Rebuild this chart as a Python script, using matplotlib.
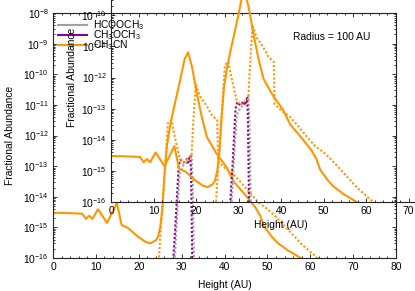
import matplotlib
matplotlib.use('Agg')
import matplotlib.pyplot as plt
from matplotlib.lines import Line2D
from matplotlib.ticker import LogLocator, MultipleLocator, LogFormatterMathtext, NullFormatter

plt.rcParams.update({
    'font.family': ['Liberation Sans', 'DejaVu Sans'],
    'mathtext.fontset': 'custom',
    'mathtext.rm': 'Liberation Sans',
    'mathtext.it': 'Liberation Sans:italic',
    'mathtext.bf': 'Liberation Sans:bold',
    'font.size': 7.4,
})

# ---- data (Height in AU, fractional abundance) ----
species = ['HCOOCH$_3$', 'CH$_3$OCH$_3$', 'CH$_3$CN']
colors = ['#a0a0a0', '#8b008b', '#ff9600']

# CH3CN, model 1 (solid)
h_ch3cn_1 = [0, 3, 6.8, 7.7, 8.4, 9.2, 10.5, 12.6, 14.9, 16.0, 17.5, 19.8, 21.5,
             22.7, 24.0, 24.5, 25.0, 25.5, 26.0, 26.6, 27.3, 28.1, 29.0, 29.8,
             30.7, 31.5, 32.4, 33.6, 34.7, 35.9, 38.2, 40.5, 42.1, 45.2, 47.2,
             48.4, 49.2, 51.0, 52.3, 54.7, 57.8, 60.0]
a_ch3cn_1 = [3.0e-15, 2.95e-15, 2.8e-15, 1.9e-15, 2.4e-15, 1.9e-15, 3.9e-15,
             1.4e-15, 6.3e-15, 1.2e-15, 9.5e-16, 5.0e-16, 3.4e-16, 3.0e-16,
             3.8e-16, 5.0e-16, 1.0e-15, 4.0e-15, 5.0e-14, 5.0e-13, 2.0e-12,
             7.0e-12, 2.5e-11, 7.9e-11, 3.2e-10, 5.2e-10, 1.8e-10, 2.2e-11,
             4.0e-12, 8.9e-13, 2.5e-13, 9.1e-14, 3.2e-14, 1.0e-14, 4.5e-15,
             2.3e-15, 1.1e-15, 5.0e-16, 3.2e-16, 1.8e-16, 1.0e-16, 4.0e-17]

# CH3CN, model 2 (dotted)
h_ch3cn_2 = [24.5, 24.7, 26.2, 26.8, 27.6, 28.5, 29.5, 30.4, 31.2, 32.3, 32.7,
             33.3, 34.3, 35.7, 37.1, 38.3, 38.5, 40.0, 42.0, 44.0, 46.0, 48.0,
             50.0, 52.0, 54.0, 56.0, 58.0, 60.0, 61.7, 62.5]
a_ch3cn_2 = [3.0e-17, 1.0e-16, 1.3e-13, 2.5e-12, 3.2e-12, 7.9e-13, 2.0e-13,
             1.3e-13, 1.6e-13, 2.0e-13, 2.5e-12, 4.7e-11, 1.9e-11, 1.0e-11,
             4.5e-12, 3.2e-12, 1.4e-13, 8.9e-14, 5.6e-14, 2.8e-14, 1.3e-14,
             6.3e-15, 4.0e-15, 2.2e-15, 1.1e-15, 5.6e-16, 2.8e-16, 1.6e-16,
             1.0e-16, 6.0e-17]

# CH3OCH3, model 2 (dotted)
h_ch3och3_2 = [27.8, 28.6, 29.3, 29.7, 30.4, 31.2, 31.5, 32.0, 32.2, 32.5]
a_ch3och3_2 = [2.5e-17, 1.6e-15, 1.0e-13, 1.6e-13, 1.3e-13, 1.7e-13, 1.3e-13,
               2.2e-13, 6.3e-14, 5.0e-17]

# HCOOCH3, model 2 (dotted)
h_hcooch3_2 = [28.2, 29.0, 29.6, 30.5, 31.5, 32.3, 32.6, 32.9]
a_hcooch3_2 = [3.0e-17, 3.2e-15, 6.3e-14, 1.1e-13, 1.4e-13, 2.5e-13, 3.2e-14,
               5.0e-17]

x_ticks = [0, 10, 20, 30, 40, 50, 60, 70, 80]

fig = plt.figure(figsize=(4.15, 2.91), dpi=100)
ax = fig.add_axes([53/415, 33/291, 343/415, 245/291])
ins = fig.add_axes([111/415, 89/291, 340/415, 249/291])
ins.patch.set_visible(False)

dot = (0, (1, 1))
for a in (ax, ins):
    a.set_yscale('log')
    a.set_xlim(0, 80)
    a.set_ylim(1e-16, 1e-8)
    a.set_xticks(x_ticks)
    a.xaxis.set_minor_locator(MultipleLocator(2))
    a.yaxis.set_major_locator(LogLocator(base=10, numticks=20))
    a.yaxis.set_minor_locator(LogLocator(base=10, subs=range(2, 10), numticks=20))
    a.yaxis.set_major_formatter(LogFormatterMathtext())
    a.yaxis.set_minor_formatter(NullFormatter())
    a.tick_params(which='both', direction='in', top=True, right=True,
                  labelsize=7.4, width=0.7, color='#333333')
    a.tick_params(which='major', length=3.2, pad=3)
    a.tick_params(which='minor', length=1.6)
    for s in a.spines.values():
        s.set_linewidth(0.8)
        s.set_color('#222222')
    a.plot(h_hcooch3_2, a_hcooch3_2, color=colors[0], lw=1.5, ls=dot)
    a.plot(h_ch3och3_2, a_ch3och3_2, color=colors[1], lw=1.5, ls=dot)
    a.plot(h_ch3cn_1, a_ch3cn_1, color=colors[2], lw=1.5)
    a.plot(h_ch3cn_2, a_ch3cn_2, color=colors[2], lw=1.5, ls=dot)
    a.set_ylabel('Fractional Abundance', labelpad=3)

ax.set_xlabel('Height (AU)', labelpad=6)
ins.set_xlabel('Height (AU)', labelpad=3)
ax.yaxis.set_label_coords(-0.111, 0.5)

handles = [Line2D([], [], color=c, lw=1.5) for c in colors]
ax.legend(handles, species, loc='upper left', bbox_to_anchor=(0.015, 0.978),
          frameon=False, handlelength=2.8, handletextpad=0.55,
          labelspacing=-0.38, borderaxespad=0, borderpad=0, fontsize=7.4)

ax.text(0.812, 0.902, 'Radius = 100 AU', transform=ax.transAxes,
        ha='center', va='center', fontsize=7.4)

fig.savefig('out.png', dpi=100)
